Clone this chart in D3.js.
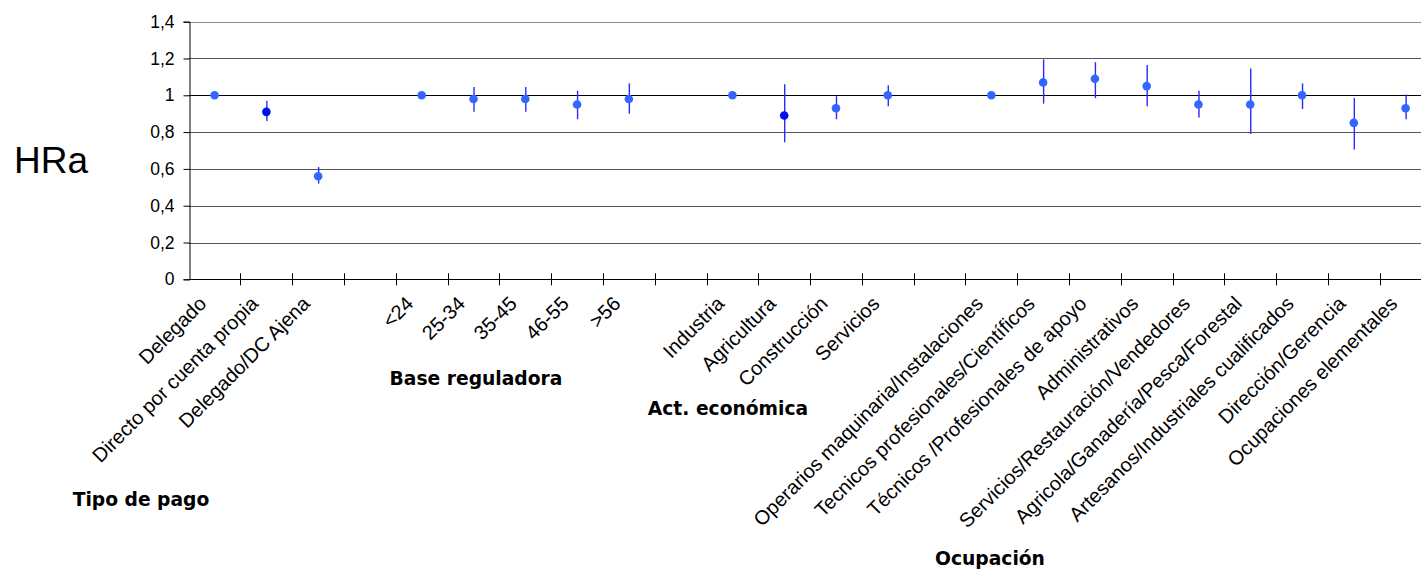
<!DOCTYPE html>
<html>
<head>
<meta charset="utf-8">
<script src="https://cdn.jsdelivr.net/npm/d3@7"></script>
<style>
  body { margin: 0; background: #fff; }
  svg { display: block; }
</style>
</head>
<body>
<div id="chart"></div>
<script>
// category slots, "" = empty gap between groups
var categories = ["Delegado", "Directo por cuenta propia", "Delegado/DC Ajena", "",
  "<24", "25-34", "35-45", "46-55", ">56", "",
  "Industria", "Agricultura", "Construcción", "Servicios", "",
  "Operarios maquinaria/Instalaciones", "Tecnicos profesionales/Científicos",
  "Técnicos /Profesionales de apoyo", "Administrativos",
  "Servicios/Restauración/Vendedores", "Agricola/Ganadería/Pesca/Forestal",
  "Artesanos/Industriales cualificados", "Dirección/Gerencia", "Ocupaciones elementales"];

// hazard ratio estimates
var hra = [1, 0.91, 0.56, null,
  1, 0.98, 0.98, 0.95, 0.98, null,
  1, 0.89, 0.93, 1.0, null,
  1, 1.07, 1.09, 1.05, 0.95, 0.95, 1.0, 0.85, 0.93];
// confidence interval, null for reference categories
var lower = [null, 0.86, 0.52, null,
  null, 0.91, 0.91, 0.87, 0.90, null,
  null, 0.745, 0.87, 0.94, null,
  null, 0.955, 0.985, 0.94, 0.88, 0.79, 0.925, 0.705, 0.87];
var upper = [null, 0.97, 0.61, null,
  null, 1.045, 1.045, 1.025, 1.065, null,
  null, 1.06, 0.995, 1.055, null,
  null, 1.195, 1.18, 1.165, 1.025, 1.145, 1.065, 0.985, 1.005];
// darker markers
var dark = ["Directo por cuenta propia", "Agricultura"];

var yTicks = [0, 0.2, 0.4, 0.6, 0.8, 1, 1.2, 1.4];
var groups = ["Tipo de pago", "Base reguladora", "Act. económica", "Ocupación"];

var W = 1421, H = 573;
var m = {left: 188.7, top: 21.7, right: 1431.5, bottom: 279.3};

var svg = d3.select("#chart").append("svg")
  .attr("width", W).attr("height", H);

var idx = d3.range(categories.length);
var x = d3.scaleBand().domain(idx).range([m.left, m.right]);
var y = d3.scaleLinear().domain([0, 1.4]).range([m.bottom, m.top]);
var fmt = d => d3.format(".1f")(d).replace(".0", "").replace(".", ",");

// gridlines
svg.append("g").selectAll("line")
  .data(yTicks.filter(d => d > 0))
  .enter().append("line")
  .attr("x1", m.left).attr("x2", m.right)
  .attr("y1", d => Math.round(y(d)) + 0.5).attr("y2", d => Math.round(y(d)) + 0.5)
  .attr("stroke", d => d === 1 ? "#000" : (d === 1.4 ? "#8a8a8a" : "#555"))
  .attr("stroke-width", 1);

// y axis
var yAxis = svg.append("g")
  .attr("transform", "translate(" + (Math.round(m.left) + 0.5) + ",0)")
  .call(d3.axisLeft(y).tickValues(yTicks).tickFormat(fmt).tickSize(6).tickPadding(9));
yAxis.select(".domain").attr("stroke", "#000");
yAxis.selectAll(".tick line").attr("stroke", "#000");
yAxis.selectAll("text")
  .attr("font-family", "Liberation Sans, Arial, sans-serif")
  .attr("font-size", 17.5).attr("fill", "#000");

// x axis: ticks at band boundaries, crossing the axis
var xb = svg.append("g");
xb.append("line")
  .attr("x1", m.left).attr("x2", m.right)
  .attr("y1", Math.round(m.bottom) + 0.5).attr("y2", Math.round(m.bottom) + 0.5)
  .attr("stroke", "#000");
xb.selectAll("line.tk")
  .data(idx.slice(1))
  .enter().append("line")
  .attr("class", "tk")
  .attr("x1", d => Math.round(x(d)) + 0.5).attr("x2", d => Math.round(x(d)) + 0.5)
  .attr("y1", m.bottom - 6).attr("y2", m.bottom + 6)
  .attr("stroke", "#000");

// category labels
svg.append("g").selectAll("text")
  .data(idx.filter(i => categories[i] !== ""))
  .enter().append("text")
  .attr("transform", i => "translate(" + (x(i) + x.bandwidth() / 2 - 12) + ",300) rotate(-45)")
  .attr("text-anchor", "end")
  .attr("dy", "0.35em")
  .attr("font-family", "Liberation Sans, Arial, sans-serif")
  .attr("font-size", 20)
  .attr("fill", "#000")
  .text(i => categories[i]);

// error bars
svg.append("g").selectAll("line")
  .data(idx.filter(i => lower[i] != null))
  .enter().append("line")
  .attr("x1", i => x(i) + x.bandwidth() / 2 + 0.5)
  .attr("x2", i => x(i) + x.bandwidth() / 2 + 0.5)
  .attr("y1", i => y(lower[i])).attr("y2", i => y(upper[i]))
  .attr("stroke", "#2a2aff").attr("stroke-width", 1.4);

// points
svg.append("g").selectAll("circle")
  .data(idx.filter(i => hra[i] != null))
  .enter().append("circle")
  .attr("cx", i => x(i) + x.bandwidth() / 2)
  .attr("cy", i => y(hra[i]))
  .attr("r", 4.3)
  .attr("fill", i => dark.includes(categories[i]) ? "#0010e8" : "#3366ff");

// y title
svg.append("text")
  .attr("x", 14).attr("y", 173)
  .attr("font-family", "Liberation Sans, Arial, sans-serif")
  .attr("font-size", 37).attr("fill", "#000")
  .text("HRa");

// group titles
var groupPos = [[141, 506], [476, 385], [728, 415], [990, 565]];
svg.append("g").selectAll("text")
  .data(groups)
  .enter().append("text")
  .attr("x", (d, i) => groupPos[i][0]).attr("y", (d, i) => groupPos[i][1])
  .attr("text-anchor", "middle")
  .attr("font-family", "DejaVu Sans, Verdana, sans-serif")
  .attr("font-weight", "bold")
  .attr("font-size", 18.7).attr("fill", "#000")
  .text(d => d);
</script>
</body>
</html>
